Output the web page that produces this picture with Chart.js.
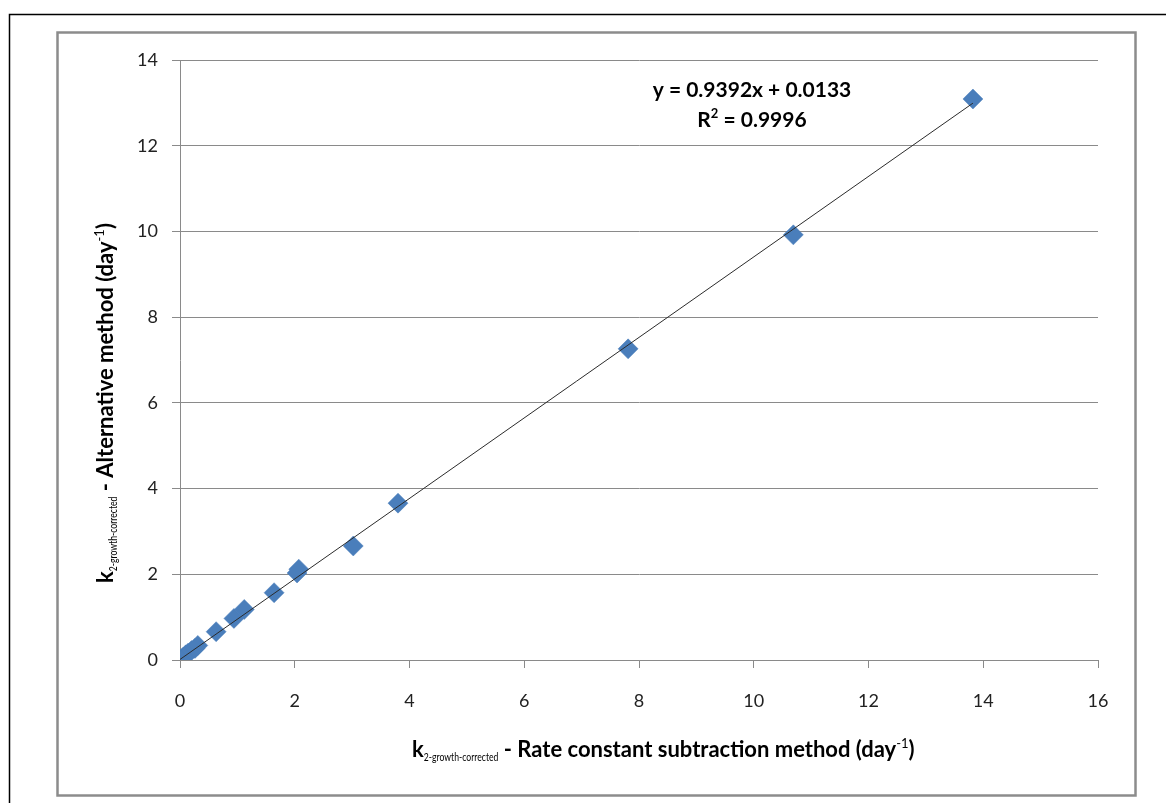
<!DOCTYPE html>
<html>
<head>
<meta charset="utf-8">
<script src="https://cdn.jsdelivr.net/npm/chart.js@4/dist/chart.umd.min.js"></script>
<style>
  html, body { margin: 0; padding: 0; background: #fff; }
  #wrap { position: relative; width: 1166px; height: 803px; }
  canvas { display: block; }
</style>
</head>
<body>
<div id="wrap"><canvas id="chart" width="1166" height="803"></canvas></div>
<script>
// Rate constants: subtraction method (x) vs alternative method (y), day^-1
const subtractionK = [0.00, 0.03, 0.06, 0.10, 0.14, 0.20, 0.26, 0.31, 0.63, 0.94, 1.12, 1.64, 2.04, 2.07, 3.02, 3.80, 7.81, 10.69, 13.82];
const alternativeK = [0.01, 0.03, 0.07, 0.12, 0.16, 0.22, 0.27, 0.34, 0.66, 0.97, 1.18, 1.57, 2.03, 2.12, 2.66, 3.66, 7.26, 9.92, 13.09];

// Linear trendline fitted to the points
const trendSlope = 0.9392;
const trendIntercept = 0.0133;
const trendR2 = 0.9996;

// Axis tick values
const xTicks = [0, 2, 4, 6, 8, 10, 12, 14, 16];
const yTicks = [0, 2, 4, 6, 8, 10, 12, 14];

const FONT = "Lato, 'Open Sans', sans-serif";
const GRID = '#8a8a8a';
const MARKER = '#4a7ebb';

const points = subtractionK.map((x, i) => ({ x: x, y: alternativeK[i] }));
const xMin = Math.min(...subtractionK), xMax = Math.max(...subtractionK);
const trend = [xMin, xMax].map(x => ({ x: x, y: trendSlope * x + trendIntercept }));

// Draws a run of text pieces (base, sub- and superscripts) starting at the origin;
// sx condenses a piece horizontally
function drawRich(ctx, parts) {
  let x = 0;
  parts.forEach(p => {
    const sx = p.sx || 1;
    ctx.font = (p.bold ? 'bold ' : '') + p.size + 'px ' + FONT;
    ctx.save();
    ctx.translate(x, p.dy || 0);
    ctx.scale(sx, 1);
    ctx.fillText(p.t, 0, 0);
    ctx.restore();
    x += ctx.measureText(p.t).width * sx;
  });
}

const titleParts = (rest) => [
  { t: 'k', size: 22, bold: true },
  { t: '2-growth-corrected', size: 12, bold: false, dy: 4, sx: 0.72 },
  { t: ' - ' + rest + ' (day', size: 22, bold: true },
  { t: '-1', size: 13, bold: false, dy: -9 },
  { t: ')', size: 22, bold: true }
];

const decor = {
  id: 'decor',
  beforeDraw(chart) {
    const ctx = chart.ctx;
    ctx.save();
    ctx.fillStyle = '#fff';
    ctx.fillRect(0, 0, chart.width, chart.height);
    // outer frame
    ctx.strokeStyle = '#000';
    ctx.lineWidth = 1.5;
    ctx.beginPath();
    ctx.moveTo(9.5, 803);
    ctx.lineTo(9.5, 14.5);
    ctx.lineTo(1166, 14.5);
    ctx.stroke();
    // chart area frame
    ctx.strokeStyle = '#8c8c8c';
    ctx.lineWidth = 2.5;
    ctx.strokeRect(57.5, 32.5, 1078, 763);
    ctx.restore();
  },
  afterDraw(chart) {
    const ctx = chart.ctx;
    ctx.save();
    ctx.fillStyle = '#000';
    ctx.textBaseline = 'alphabetic';
    ctx.textAlign = 'left';
    // x axis title
    ctx.save();
    ctx.translate(412, 757);
    drawRich(ctx, titleParts('Rate constant subtraction method'));
    ctx.restore();
    // y axis title
    ctx.save();
    ctx.translate(113, 583);
    ctx.rotate(-Math.PI / 2);
    drawRich(ctx, titleParts('Alternative method'));
    ctx.restore();
    // trendline equation
    ctx.textAlign = 'center';
    ctx.font = 'bold 21px ' + FONT;
    const sign = trendIntercept >= 0 ? '+' : '-';
    ctx.fillText('y = ' + trendSlope.toFixed(4) + 'x ' + sign + ' ' + Math.abs(trendIntercept).toFixed(4), 752, 97);
    ctx.textAlign = 'left';
    const rLabel = ' = ' + trendR2.toFixed(4);
    ctx.font = 'bold 21px ' + FONT;
    const wR = ctx.measureText('R').width;
    const wRest = ctx.measureText(rLabel).width;
    ctx.font = 'bold 13px ' + FONT;
    const w2 = ctx.measureText('2').width;
    const x0 = 752 - (wR + w2 + wRest) / 2;
    ctx.font = 'bold 21px ' + FONT;
    ctx.fillText('R', x0, 127);
    ctx.font = 'bold 13px ' + FONT;
    ctx.fillText('2', x0 + wR, 118);
    ctx.font = 'bold 21px ' + FONT;
    ctx.fillText(rLabel, x0 + wR + w2, 127);
    ctx.restore();
  }
};

new Chart(document.getElementById('chart'), {
  data: {
    datasets: [
      {
        type: 'line',
        data: trend,
        borderColor: '#2b2b2b',
        borderWidth: 1,
        pointRadius: 0,
        fill: false,
        order: 0
      },
      {
        type: 'scatter',
        data: points,
        pointStyle: 'rectRot',
        pointRadius: 10,
        backgroundColor: MARKER,
        borderColor: MARKER,
        borderWidth: 0.5,
        order: 1
      }
    ]
  },
  options: {
    responsive: false,
    animation: false,
    devicePixelRatio: 1,
    layout: { padding: { left: 0, top: 60, right: 68, bottom: 0 } },
    plugins: { legend: { display: false }, tooltip: { enabled: false } },
    scales: {
      x: {
        type: 'linear',
        min: 0, max: 16,
        afterBuildTicks: s => { s.ticks = xTicks.map(v => ({ value: v })); },
        afterFit: s => { s.height = 143; },
        grid: { drawOnChartArea: false, drawTicks: true, tickLength: 8, color: GRID, lineWidth: 1 },
        border: { color: GRID, width: 1 },
        ticks: { color: '#222', padding: 22, font: { family: FONT, size: 18 } }
      },
      y: {
        type: 'linear',
        min: 0, max: 14,
        afterBuildTicks: s => { s.ticks = yTicks.map(v => ({ value: v })); },
        afterFit: s => { s.width = 180; },
        grid: { color: GRID, lineWidth: 1, tickLength: 8 },
        border: { color: GRID, width: 1 },
        ticks: { color: '#222', padding: 14, font: { family: FONT, size: 18 } }
      }
    }
  },
  plugins: [decor]
});
</script>
</body>
</html>
